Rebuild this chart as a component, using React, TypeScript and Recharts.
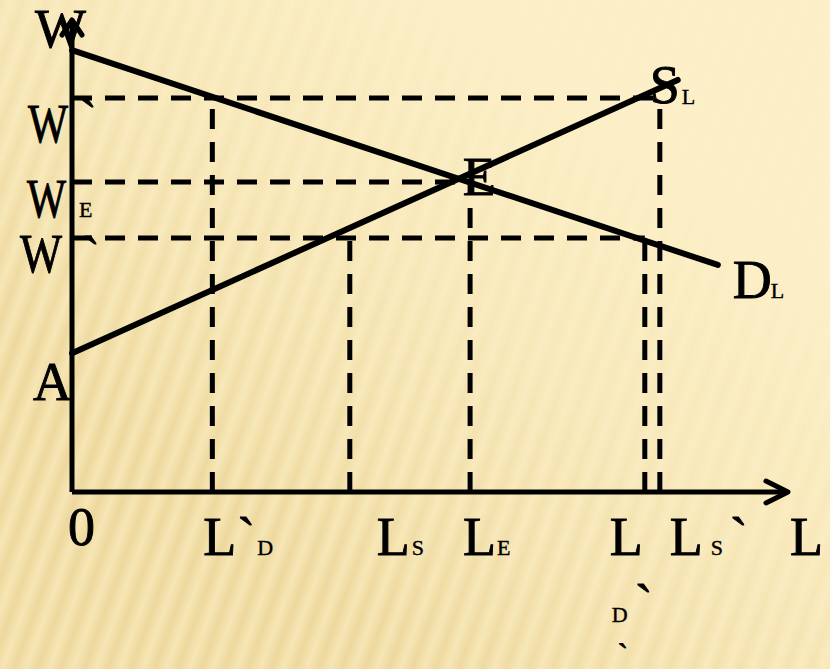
import { LineChart, Line, XAxis, YAxis, ReferenceLine, ReferenceDot } from "recharts";

// labour quantity (L) on x, wage (W) on y, both on a 0..100 scale
const demandL = [0, 90.2];
const demandW = [93.6, 48.1];
const supplyL = [0, 84.6];
const supplyW = [29.4, 87.3];

// horizontal dashed wage levels: W` (high), W_E, W` (low)
const wageLevels = [83.5, 65.7, 53.8];
const wageEnds = [82.1, 55.6, 80.0];

// vertical dashed labour levels: L`D, Ls, LE, L`D, Ls`
const laborLevels = [19.6, 38.8, 55.6, 80.0, 82.1];
const laborTops = [83.5, 53.8, 65.7, 53.8, 83.5];

const xTickValues = [0, 19.6, 38.8, 55.6, 80.0, 82.1, 100];
const xTickLabels = ["0", "L`D", "LS", "LE", "L`D`", "LS`", "L"];
const yTickValues = [100, 83.5, 65.7, 53.8, 29.4];
const yTickLabels = ["W", "W`", "WE", "W`", "A"];
const curveLabels = ["E", "SL", "DL"];

const FONT = '"Liberation Serif", "Times New Roman", serif';
const BIG = 54;
const SMALL = 22;
const INK = "#000";

// per-character offsets [dx, dy, squeezeWidth?, fontSize?] from the tick / anchor point
const X_LAYOUT: number[][][] = [
  [[-4, 53]],
  [[-9, 63], [25, 63], [45, 63]],
  [[27, 63], [62, 63]],
  [[-7, 63], [27, 63]],
  [[-35, 63], [-10, 130], [-33, 130], [-27, 172, 0, 30]],
  [[10, 63], [51, 63], [70, 63]],
  [[2, 63]],
];
const Y_LAYOUT: number[][][] = [
  [[-37, 27]],
  [[-44, 44, 40], [7, 39]],
  [[-45, 35, 39], [7, 35]],
  [[-52, 34, 42], [10, 36]],
  [[-39, 47]],
];
const CURVE_LAYOUT: number[][][] = [
  [[4, 16]],
  [[-28, 23], [4, 24]],
  [[15, 33], [53, 33]],
];

function Pieces({ x, y, label, layout }: { x: number; y: number; label: string; layout: number[][] }) {
  return (
    <g>
      {label.split("").map((ch, i) => {
        const [dx, dy, w, size] = layout[i];
        const small = i > 0 && ch !== "`";
        return (
          <text
            key={i}
            x={x + dx}
            y={y + dy}
            fontFamily={FONT}
            fontSize={size || (small ? SMALL : BIG)}
            fill={INK}
            stroke={INK}
            strokeWidth={small ? 0.4 : 0.9}
            textLength={w || undefined}
            lengthAdjust={w ? "spacingAndGlyphs" : undefined}
          >
            {ch}
          </text>
        );
      })}
    </g>
  );
}

const demandData = demandL.map((l, i) => ({ l, w: demandW[i] }));
const supplyData = supplyL.map((l, i) => ({ l, w: supplyW[i] }));

// equilibrium from the two straight lines
const dSlope = (demandW[1] - demandW[0]) / (demandL[1] - demandL[0]);
const sSlope = (supplyW[1] - supplyW[0]) / (supplyL[1] - supplyL[0]);
const eqL = (demandW[0] - supplyW[0]) / (sSlope - dSlope);
const eqW = supplyW[0] + sSlope * eqL;
const curveAnchors = [
  { x: eqL, y: eqW },
  { x: supplyL[1], y: supplyW[1] },
  { x: demandL[1], y: demandW[1] },
];

const bg =
  "linear-gradient(to top right, rgba(253,240,201,0) 25%, rgba(253,240,201,0.6) 55%, rgba(253,240,201,0.95) 80%)," +
  "repeating-linear-gradient(110deg, #EDD89D 0px, #F6E6B5 11px, #EDD89D 22px)," +
  "#F6E6B4";

export default function App() {
  return (
    <div style={{ width: 830, height: 669, background: bg, position: "relative" }}>
      <style>{"body{margin:0}"}</style>
      <LineChart width={830} height={669} margin={{ top: 20, right: 42, bottom: 176, left: 71 }}>
        <XAxis
          type="number"
          dataKey="l"
          domain={[0, 100]}
          ticks={xTickValues}
          interval={0}
          height={1}
          tickSize={0}
          tickMargin={0}
          tickLine={false}
          axisLine={{ stroke: INK, strokeWidth: 5 }}
          tick={(p: any) => {
            const i = xTickValues.indexOf(p.payload.value);
            return <Pieces x={p.x} y={p.y} label={xTickLabels[i]} layout={X_LAYOUT[i]} />;
          }}
        />
        <YAxis
          type="number"
          domain={[0, 100]}
          ticks={yTickValues}
          interval={0}
          width={1}
          tickSize={0}
          tickMargin={0}
          tickLine={false}
          axisLine={{ stroke: INK, strokeWidth: 5 }}
          tick={(p: any) => {
            const i = yTickValues.indexOf(p.payload.value);
            return <Pieces x={p.x} y={p.y} label={yTickLabels[i]} layout={Y_LAYOUT[i]} />;
          }}
        />
        {wageLevels.map((w, i) => (
          <ReferenceLine
            key={"h" + i}
            segment={[{ x: 0, y: w }, { x: wageEnds[i], y: w }]}
            stroke={INK}
            strokeWidth={5}
            strokeDasharray="20 13"
          />
        ))}
        {laborLevels.map((l, i) => (
          <ReferenceLine
            key={"v" + i}
            segment={[{ x: l, y: 0 }, { x: l, y: laborTops[i] }]}
            stroke={INK}
            strokeWidth={5}
            strokeDasharray="20 13"
          />
        ))}
        <Line
          data={demandData}
          dataKey="w"
          stroke={INK}
          strokeWidth={6}
          strokeLinecap="round"
          dot={false}
          activeDot={false}
          isAnimationActive={false}
        />
        <Line
          data={supplyData}
          dataKey="w"
          stroke={INK}
          strokeWidth={6}
          strokeLinecap="round"
          dot={false}
          activeDot={false}
          isAnimationActive={false}
        />
        <ReferenceDot
          x={100}
          y={0}
          r={0}
          shape={(p: any) => (
            <polyline
              points={`${p.cx - 22},${p.cy - 11} ${p.cx},${p.cy} ${p.cx - 22},${p.cy + 11}`}
              fill="none"
              stroke={INK}
              strokeWidth={5}
              strokeLinecap="round"
              strokeLinejoin="round"
            />
          )}
        />
        <ReferenceDot
          x={0}
          y={100}
          r={0}
          shape={(p: any) => (
            <polyline
              points={`${p.cx - 10},${p.cy + 15} ${p.cx},${p.cy} ${p.cx + 10},${p.cy + 15}`}
              fill="none"
              stroke={INK}
              strokeWidth={5}
              strokeLinecap="round"
              strokeLinejoin="round"
            />
          )}
        />
        {curveLabels.map((lab, i) => (
          <ReferenceDot
            key={lab}
            x={curveAnchors[i].x}
            y={curveAnchors[i].y}
            r={0}
            shape={(p: any) => <Pieces x={p.cx} y={p.cy} label={lab} layout={CURVE_LAYOUT[i]} />}
          />
        ))}
      </LineChart>
    </div>
  );
}
